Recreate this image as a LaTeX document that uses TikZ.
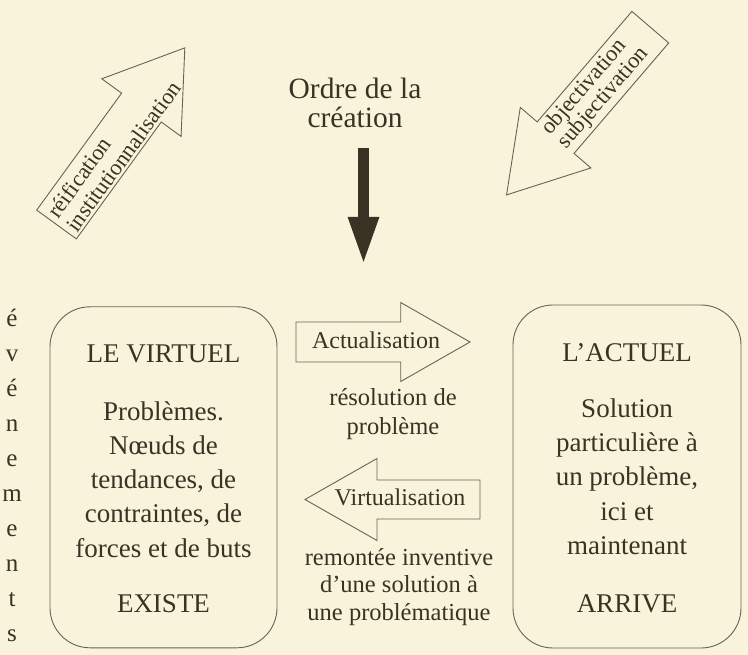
\documentclass[tikz,border=0pt]{standalone}
\usepackage{fontspec}
\setmainfont{Liberation Serif}
\usetikzlibrary{arrows.meta}
\definecolor{fond}{RGB}{250,243,219}
\definecolor{encre}{RGB}{58,50,36}
\definecolor{trait}{RGB}{105,98,85}
\newcommand{\flechecreuse}[4]{\draw[contour] (0,-#2) -- ({#1-#3},-#2) -- ({#1-#3},-#4) -- (#1,0) -- ({#1-#3},#4) -- ({#1-#3},#2) -- (0,#2) -- cycle;}
\tikzset{
  contour/.style={draw=trait,line width=0.9pt,line join=miter},
  boite/.style={contour,rounded corners=40pt,inner sep=0pt},
  titre/.style={text=encre,inner sep=0pt,anchor=base,font=\fontsize{27}{34}\selectfont},
  texte/.style={text=encre,align=center,inner sep=0pt,font=\fontsize{27}{34.25}\selectfont},
  legende/.style={text=encre,align=center,inner sep=0pt,font=\fontsize{24.5}{29}\selectfont},
  oblique/.style={text=encre,align=left,inner sep=0pt,font=\fontsize{22.5}{23.5}\selectfont},
  lettre/.style={text=encre,inner sep=0pt,anchor=base,font=\fontsize{25}{25}\selectfont}
}
\begin{document}
\begin{tikzpicture}[x=1pt,y=-1pt]
\fill[fond] (0,0) rectangle (748,655);
\useasboundingbox (0,0) rectangle (748,655);

\begin{scope}[shift={(56.5,224.5)},rotate=54]
  \flechecreuse{218.3}{24.5}{73.8}{49}
  \node[oblique,anchor=west,rotate=54] (reif) at (5,2.2) {réification\\institutionnalisation};
\end{scope}
\begin{scope}[shift={(650.3,27.2)},rotate=229.4]
  \flechecreuse{220.9}{24.25}{75.4}{46.5}
  \node[oblique,anchor=west,rotate=49.4,font=\fontsize{22.5}{21.5}\selectfont] (obj) at (147.5,0) {objectivation\\subjectivation};
\end{scope}

\node[texte,font=\fontsize{29.5}{29}\selectfont] (ordre) at (355,102.5) {Ordre de la\\création};
\coordinate (haut) at (363.5,148);
\coordinate (bas) at (363.5,265);
\draw[encre,line width=11pt,-{Triangle[width=28pt,length=48pt]}] (haut) -- (bas);

\foreach \l [count=\i] in {é,v,é,n,e,m,e,n,t,s}
  \node[lettre] (ev\i) at (12,{326.7+35*(\i-1)}) {\l};

\node[boite,minimum width=227pt,minimum height=341pt] (virtuel) at (163.5,477.3) {};
\node[titre] (tv) at (163.5,363) {LE VIRTUEL};
\node[texte] (pbs) at (163.5,479.3) {Problèmes.\\Nœuds de\\tendances, de\\contraintes, de\\forces et de buts};
\node[titre] (existe) at (163.5,612.7) {EXISTE};

\node[boite,minimum width=228pt,minimum height=343pt] (actuel) at (627,476.5) {};
\node[titre] (ta) at (627,362) {L’ACTUEL};
\node[texte] (sol) at (627,476.6) {Solution\\particulière à\\un problème,\\ici et\\maintenant};
\node[titre] (arrive) at (627,612) {ARRIVE};

\begin{scope}[shift={(296,342)}]
  \flechecreuse{174}{20}{69.3}{39.5}
\end{scope}
\node[titre,font=\fontsize{24}{24}\selectfont] (actu) at (376,348.3) {Actualisation};
\node[legende] (reso) at (393,414.4) {résolution de\\problème};

\begin{scope}[shift={(480,499.5)},rotate=180]
  \flechecreuse{175}{19.5}{72}{41}
\end{scope}
\node[titre,font=\fontsize{24}{24}\selectfont] (virt) at (400,505) {Virtualisation};
\node[legende,font=\fontsize{24.5}{27.5}\selectfont] (remo) at (399,586.9) {remontée inventive\\d’une solution à\\une problématique};
\end{tikzpicture}
\end{document}
